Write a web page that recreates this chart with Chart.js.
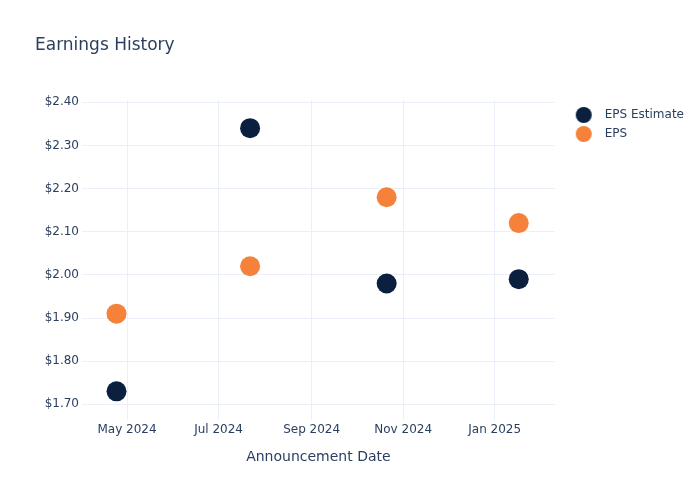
<!DOCTYPE html>
<html>
<head>
<meta charset="utf-8">
<title>Earnings History</title>
<script src="https://cdn.jsdelivr.net/npm/chart.js@4.4.1/dist/chart.umd.min.js"></script>
<style>
  html, body { margin: 0; padding: 0; background: #fff; }
  #wrap { width: 700px; height: 500px; }
</style>
</head>
<body>
<div id="wrap"><canvas id="earnings-history"></canvas></div>
<script>
// announcement dates and the two series
const dates = ['2024-04-24', '2024-07-22', '2024-10-21', '2025-01-17'];
const epsEstimate = [1.73, 2.34, 1.98, 1.99];
const epsActual = [1.91, 2.02, 2.18, 2.12];

// axis ticks
const tickDates = ['2024-05-01', '2024-07-01', '2024-09-01', '2024-11-01', '2025-01-01'];
const tickLabels = ['May 2024', 'Jul 2024', 'Sep 2024', 'Nov 2024', 'Jan 2025'];
const yTicks = [1.7, 1.8, 1.9, 2.0, 2.1, 2.2, 2.3, 2.4];
const xRange = ['2024-04-01', '2025-02-10'];
const yRange = [1.6636, 2.4053];

const navy = '#0b1f3f';
const orange = '#f5813a';
const textColor = '#2a3f5f';
const gridColor = '#ebf0f8';

Chart.defaults.font.family = '"DejaVu Sans", Verdana, sans-serif';
Chart.defaults.color = textColor;

function toMs(d) {
  return new Date(d + 'T00:00:00Z').getTime();
}

function points(values) {
  return values.map((v, i) => ({ x: toMs(dates[i]), y: v }));
}

// legend marker, with some empty room on the left so the legend sits off the plot
function legendMarker(color) {
  const c = document.createElement('canvas');
  c.width = 37;
  c.height = 18;
  const ctx = c.getContext('2d');
  ctx.fillStyle = color;
  ctx.beginPath();
  ctx.arc(22, 9, 8, 0, Math.PI * 2);
  ctx.fill();
  return c;
}

const ctx = document.getElementById('earnings-history');

new Chart(ctx, {
  type: 'scatter',
  data: {
    datasets: [{
      label: 'EPS Estimate',
      data: points(epsEstimate),
      backgroundColor: navy,
      borderWidth: 0,
      pointRadius: 10,
      pointHoverRadius: 10,
      pointStyle: 'circle',
      legendMarker: legendMarker(navy)
    }, {
      label: 'EPS',
      data: points(epsActual),
      backgroundColor: orange,
      borderWidth: 0,
      pointRadius: 10,
      pointHoverRadius: 10,
      pointStyle: 'circle',
      legendMarker: legendMarker(orange)
    }]
  },
  options: {
    responsive: true,
    maintainAspectRatio: false,
    animation: false,
    layout: {
      padding: { left: 35, right: 6, top: 0, bottom: 34 }
    },
    scales: {
      x: {
        type: 'linear',
        min: toMs(xRange[0]),
        max: toMs(xRange[1]),
        afterBuildTicks: (scale) => {
          scale.ticks = tickDates.map(d => ({ value: toMs(d) }));
        },
        afterFit: (scale) => {
          scale.height = 46;
        },
        ticks: {
          autoSkip: false,
          maxRotation: 0,
          padding: 3,
          font: { size: 12 },
          callback: (value, index) => tickLabels[index]
        },
        grid: { color: gridColor, drawTicks: false },
        border: { display: false },
        title: {
          display: true,
          text: 'Announcement Date',
          font: { size: 14 },
          padding: 0
        }
      },
      y: {
        min: yRange[0],
        max: yRange[1],
        afterBuildTicks: (scale) => {
          scale.ticks = yTicks.map(v => ({ value: v }));
        },
        afterFit: (scale) => {
          scale.width = 47;
        },
        ticks: {
          padding: 3,
          font: { size: 12 },
          callback: (value) => '$' + value.toFixed(2)
        },
        grid: { color: gridColor, drawTicks: false },
        border: { display: false }
      }
    },
    plugins: {
      title: {
        display: true,
        text: 'Earnings History',
        align: 'start',
        font: { size: 17, weight: 'normal' },
        color: textColor,
        padding: { top: 35, bottom: 44.6 }
      },
      legend: {
        position: 'right',
        align: 'start',
        fullSize: false,
        // empty title, only used to push the items down a little
        title: {
          display: true,
          text: '',
          font: { size: 1, lineHeight: 1 },
          padding: { top: 1, bottom: 0 }
        },
        labels: {
          usePointStyle: true,
          pointStyleWidth: 37,
          boxHeight: 12,
          padding: 7,
          font: { size: 12 },
          color: textColor,
          generateLabels: (chart) => chart.data.datasets.map((ds, i) => ({
            text: ds.label,
            fontColor: textColor,
            pointStyle: ds.legendMarker,
            fillStyle: ds.backgroundColor,
            strokeStyle: ds.backgroundColor,
            lineWidth: 0,
            hidden: !chart.isDatasetVisible(i),
            datasetIndex: i
          }))
        }
      },
      tooltip: { enabled: false }
    }
  }
});
</script>
</body>
</html>
